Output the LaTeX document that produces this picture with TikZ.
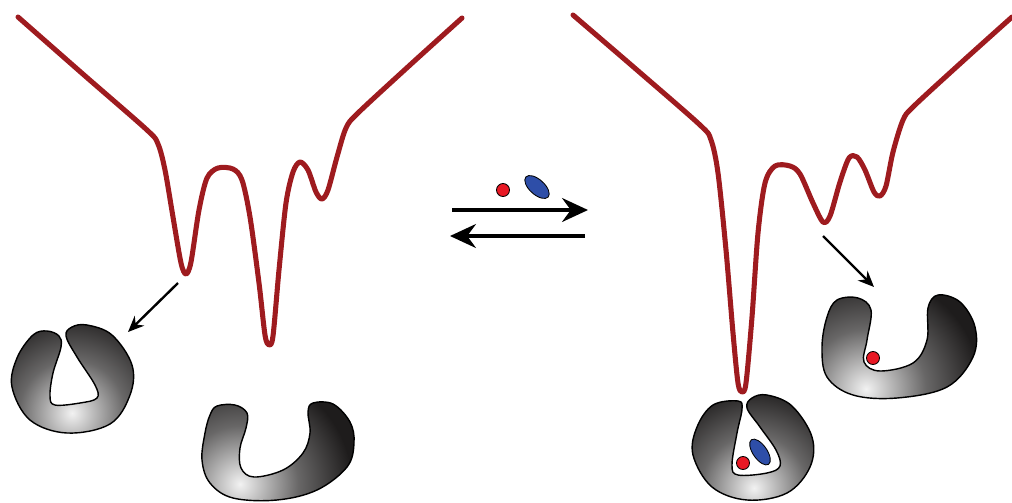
\documentclass[tikz,border=0pt]{standalone}
\usepackage{tikz}
\usepackage{xcolor}
\usetikzlibrary{arrows.meta}

\definecolor{funnelred}{RGB}{158,27,31}
\definecolor{ligandred}{RGB}{232,24,36}
\definecolor{cofactorblue}{RGB}{46,78,168}
\definecolor{pocketlight}{RGB}{242,242,242}
\definecolor{pocketdark}{RGB}{30,28,28}

% light core, dark rim
\pgfdeclareradialshading{pocketglow}{\pgfpoint{0bp}{0bp}}{%
    color(0bp)=(pocketlight); color(5bp)=(pocketlight!75!pocketdark);
    color(13bp)=(pocketlight!35!pocketdark); color(25bp)=(pocketdark);
    color(50bp)=(pocketdark)}

\begin{document}
\begin{tikzpicture}[
    x=0.025cm, y=-0.025cm,
    landscape/.style={line width=3.6pt, funnelred, line join=round, line cap=round},
    pocket/.style={draw=black, line width=1pt},
    glow/.style={shading=pocketglow},
    ligand/.style={draw=black, line width=0.6pt, fill=ligandred},
    cofactor/.style={draw=black, line width=0.6pt, fill=cofactorblue},
    binding/.style={line width=1.7pt, -{Stealth[length=4mm, width=3.4mm, inset=1.3mm]}},
    equilibrium/.style={line width=2.2pt, -{Stealth[length=6.5mm, width=6mm, inset=2.2mm]}}
]
\useasboundingbox (0,0) rectangle (1012,502);

% Energy landscape, free receptor
\draw[landscape] plot[smooth, tension=0.5] coordinates {
    (18,17) (84,75) (147,130) (158,144) (165,170) (173,217) (181,263) (186,274)
    (191,262) (199,210) (207,178) (218,168) (233,169) (242,180) (250,217)
    (259,283) (265,335) (269,345) (273,336) (279,270) (286,203) (293,172)
    (300,162) (308,170) (316,192) (322,199) (328,190) (337,157) (346,128)
    (358,113) (410,65) (462,18)};

% Energy landscape, bound receptor
\draw[landscape] plot[smooth, tension=0.5] coordinates {
    (573,15) (637,70) (700,125) (711,140) (718,173) (726,250) (733,333)
    (738,383) (742,392) (746,383) (752,317) (758,233) (765,183) (775,166)
    (790,166) (800,174) (813,203) (823,222) (830,216) (840,182) (849,158)
    (857,157) (865,170) (874,192) (880,196) (886,186) (893,152) (903,120)
    (914,106) (963,61) (1012,17)};

% Closed receptor (left)
\begin{scope}
    \clip plot[smooth cycle, tension=0.6] coordinates {
        (61,347) (59,336) (47,331) (33,335) (17,358) (12,387) (30,420) (67,433)
        (110,424) (130,395) (132,365) (112,335) (87,325) (72,327) (66,336)
        (77,357) (95,385) (97,398) (80,403) (55,405) (50,396) (53,373)};
    \fill[pocketdark] (0,300) rectangle (150,450);
    \shade[glow] (72,413) circle (102);
\end{scope}
\draw[pocket] plot[smooth cycle, tension=0.6] coordinates {
    (61,347) (59,336) (47,331) (33,335) (17,358) (12,387) (30,420) (67,433)
    (110,424) (130,395) (132,365) (112,335) (87,325) (72,327) (66,336)
    (77,357) (95,385) (97,398) (80,403) (55,405) (50,396) (53,373)};

% Open receptor (left)
\begin{scope}
    \clip plot[smooth cycle, tension=0.6] coordinates {
        (217,406) (235,405) (247,413) (246,428) (240,448) (241,468) (254,477)
        (283,470) (303,453) (310,433) (308,412) (313,403) (333,404) (350,422)
        (354,443) (347,467) (317,490) (277,500) (233,498) (210,483) (202,460)
        (205,433) (210,415)};
    \fill[pocketdark] (190,390) rectangle (370,502);
    \shade[glow] (240,484) circle (112);
\end{scope}
\draw[pocket] plot[smooth cycle, tension=0.6] coordinates {
    (217,406) (235,405) (247,413) (246,428) (240,448) (241,468) (254,477)
    (283,470) (303,453) (310,433) (308,412) (313,403) (333,404) (350,422)
    (354,443) (347,467) (317,490) (277,500) (233,498) (210,483) (202,460)
    (205,433) (210,415)};

% Closed receptor with both ligands (right)
\begin{scope}
    \clip plot[smooth cycle, tension=0.6] coordinates {
        (742,409) (738,401) (713,405) (697,427) (693,455) (712,487) (747,500)
        (787,493) (810,467) (812,437) (792,406) (767,395) (752,398) (747,408)
        (760,427) (776,450) (780,466) (767,473) (738,475) (732,465) (737,433)};
    \fill[pocketdark] (680,385) rectangle (825,502);
    \shade[glow] (754,488) circle (102);
\end{scope}
\draw[pocket] plot[smooth cycle, tension=0.6] coordinates {
    (742,409) (738,401) (713,405) (697,427) (693,455) (712,487) (747,500)
    (787,493) (810,467) (812,437) (792,406) (767,395) (752,398) (747,408)
    (760,427) (776,450) (780,466) (767,473) (738,475) (732,465) (737,433)};
\draw[cofactor, rotate around={-55:(760,452)}] (760,452) ellipse (15 and 7);
\draw[ligand] (743,463) circle (6.5);

% Open receptor with one ligand (right)
\begin{scope}
    \clip plot[smooth cycle, tension=0.6] coordinates {
        (837,300) (858,298) (871,310) (867,340) (864,362) (880,371) (913,363)
        (927,340) (928,308) (938,295) (960,302) (975,327) (973,357) (947,387)
        (897,398) (853,395) (827,377) (822,347) (827,317)};
    \fill[pocketdark] (810,285) rectangle (990,410);
    \shade[glow] (866,389) circle (115);
\end{scope}
\draw[pocket] plot[smooth cycle, tension=0.6] coordinates {
    (837,300) (858,298) (871,310) (867,340) (864,362) (880,371) (913,363)
    (927,340) (928,308) (938,295) (960,302) (975,327) (973,357) (947,387)
    (897,398) (853,395) (827,377) (822,347) (827,317)};
\draw[ligand] (873,358) circle (6.5);

% Ligands above the equilibrium
\draw[ligand] (503,190) circle (6.5);
\draw[cofactor, rotate around={-42:(537,187)}] (537,187) ellipse (15 and 7.5);

% Equilibrium arrows
\coordinate (fwdstart) at (452,210);
\coordinate (fwdend) at (588,210);
\coordinate (revstart) at (585,236);
\coordinate (revend) at (450,236);
\draw[equilibrium] (fwdstart) -- (fwdend);
\draw[equilibrium] (revstart) -- (revend);

% Wells to conformations
\coordinate (wellL) at (178,283);
\coordinate (openL) at (128,332);
\coordinate (wellR) at (823,236);
\coordinate (openR) at (874,287);
\draw[binding] (wellL) -- (openL);
\draw[binding] (wellR) -- (openR);

\end{tikzpicture}
\end{document}
